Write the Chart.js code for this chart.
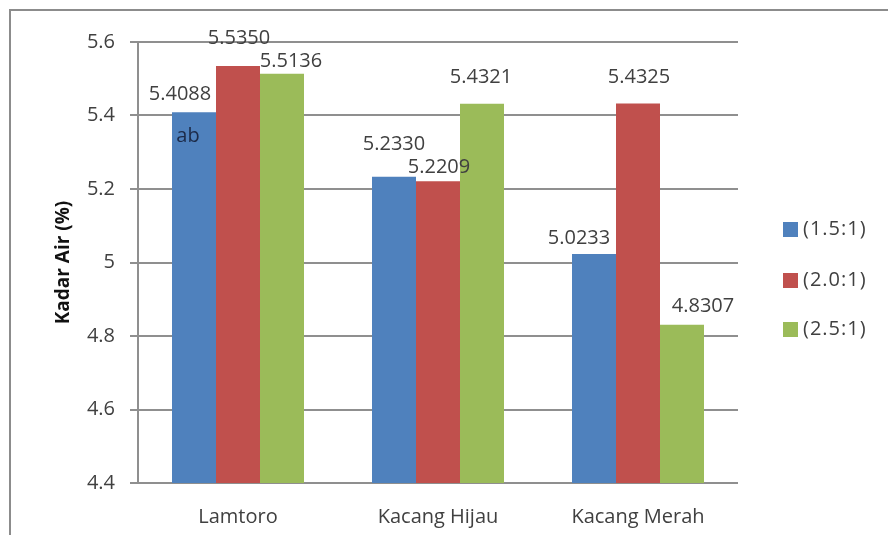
<!DOCTYPE html>
<html>
<head>
<meta charset="utf-8">
<script src="https://cdn.jsdelivr.net/npm/chart.js@4/dist/chart.umd.min.js"></script>
<style>
  html, body { margin: 0; padding: 0; background: #ffffff; }
  #wrap { width: 888px; height: 535px; position: relative; }
</style>
</head>
<body>
<div id="wrap"><canvas id="c" width="888" height="535"></canvas></div>
<script>
// ---- data ----
const categories = ["Lamtoro", "Kacang Hijau", "Kacang Merah"];
const seriesNames = ["(1.5:1)", "(2.0:1)", "(2.5:1)"];
const series15 = [5.4088, 5.2330, 5.0233];
const series20 = [5.5350, 5.2209, 5.4325];
const series25 = [5.5136, 5.4321, 4.8307];
const valueLabels15 = ["5.4088", "5.2330", "5.0233"];
const valueLabels20 = ["5.5350", "5.2209", "5.4325"];
const valueLabels25 = ["5.5136", "5.4321", "4.8307"];
const yTicks = [4.4, 4.6, 4.8, 5, 5.2, 5.4, 5.6];
const yTitle = "Kadar Air (%)";
const noteText = "ab"; // annotation on the first bar

// ---- styles (kept separate from data) ----
const colors = ["#4F81BD", "#C0504D", "#9BBB59"];
const labelOffsets = [
  [[-14, -18], [0, -33], [-15, -16]],
  [[1, -28], [1, -14], [1, -26]],
  [[9, -12], [-1, -26], [21, -18]]
];
const FONT = "'Open Sans', 'Noto Sans', sans-serif";
const TEXT = "#404040";
const GRID = "#8f8f8f";

const valueLabels = [valueLabels15, valueLabels20, valueLabels25];

const labelPlugin = {
  id: 'labels',
  beforeDraw(chart) {
    const ctx = chart.ctx;
    ctx.save();
    ctx.fillStyle = '#ffffff';
    ctx.fillRect(0, 0, chart.width, chart.height);
    ctx.strokeStyle = '#8c8c8c';
    ctx.lineWidth = 2;
    ctx.strokeRect(10, 10, chart.width + 50, chart.height + 50);
    ctx.restore();
  },
  afterDatasetsDraw(chart) {
    const ctx = chart.ctx;
    ctx.save();
    ctx.font = "20px " + FONT;
    ctx.textAlign = 'center';
    ctx.textBaseline = 'middle';
    chart.data.datasets.forEach((ds, i) => {
      const meta = chart.getDatasetMeta(i);
      meta.data.forEach((bar, j) => {
        const off = labelOffsets[i][j];
        ctx.fillStyle = TEXT;
        ctx.fillText(valueLabels[i][j], bar.x + off[0], bar.y + off[1]);
      });
    });
    // annotation
    const b0 = chart.getDatasetMeta(0).data[0];
    ctx.fillStyle = '#1c2a48';
    ctx.fillText(noteText, b0.x - 6, b0.y + 24);
    // legend
    const legendY = [229, 280, 329];
    ctx.letterSpacing = '1px';
    chart.data.datasets.forEach((ds, i) => {
      const y = legendY[i];
      ctx.fillStyle = ds.backgroundColor;
      ctx.fillRect(783, y - 7, 15, 15);
      ctx.fillStyle = TEXT;
      ctx.textAlign = 'left';
      ctx.fillText(ds.label, 803, y);
    });
    ctx.restore();
  }
};

new Chart(document.getElementById('c'), {
  type: 'bar',
  data: {
    labels: categories,
    datasets: [
      { label: seriesNames[0], data: series15, backgroundColor: colors[0] },
      { label: seriesNames[1], data: series20, backgroundColor: colors[1] },
      { label: seriesNames[2], data: series25, backgroundColor: colors[2] }
    ]
  },
  options: {
    responsive: false,
    animation: false,
    devicePixelRatio: 1,
    categoryPercentage: 0.66,
    barPercentage: 1.0,
    layout: { padding: { left: 0, top: 42, right: 150, bottom: 0 } },
    plugins: { legend: { display: false }, tooltip: { enabled: false } },
    scales: {
      x: {
        grid: { display: false, drawTicks: false },
        border: { display: false },
        ticks: { color: TEXT, font: { family: FONT, size: 20 }, padding: 22 },
        afterFit(s) { s.height = 52; }
      },
      y: {
        min: 4.4, max: 5.6,
        afterBuildTicks(s) { s.ticks = yTicks.map(v => ({ value: v })); },
        ticks: {
          color: TEXT, font: { family: FONT, size: 20 }, padding: 15,
          callback: v => String(+Number(v).toFixed(1))
        },
        grid: { color: GRID, lineWidth: 2, tickLength: 8, drawTicks: true },
        border: { display: true, color: GRID, width: 2 },
        title: {
          display: true, text: yTitle, color: '#111111',
          font: { family: FONT, size: 19, weight: 'bold' },
          padding: { top: 52, bottom: 0 }
        },
        afterFit(s) { s.width = 138; }
      }
    }
  },
  plugins: [labelPlugin]
});
</script>
</body>
</html>
